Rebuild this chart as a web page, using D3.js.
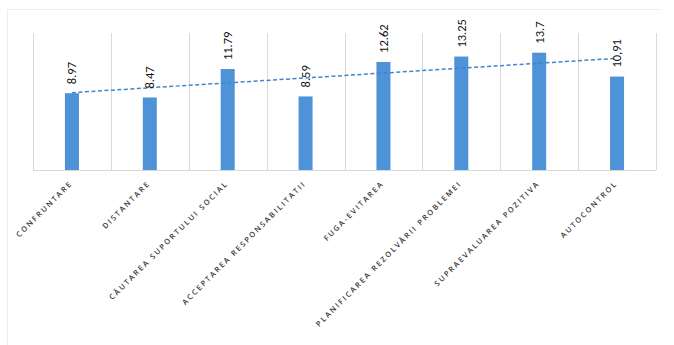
<!DOCTYPE html>
<html><head><meta charset="utf-8">
<script src="https://cdn.jsdelivr.net/npm/d3@7"></script>
<style>html,body{margin:0;padding:0;background:#fff;}svg{display:block;}</style>
</head><body>
<svg id="chart" width="674" height="345"></svg>
<script>
const categories = ["CONFRUNTARE","DISTANTARE","CĂUTAREA SUPORTULUI SOCIAL","ACCEPTAREA RESPONSABILITATII","FUGA-EVITAREA","PLANIFICAREA REZOLVĂRII PROBLEMEI","SUPRAEVALUAREA POZITIVA","AUTOCONTROL"];
const values = [8.97, 8.47, 11.79, 8.59, 12.62, 13.25, 13.7, 10.91];
const valueLabels = ["8.97","8.47","11.79","8.59","12.62","13.25","13.7","10,91"];
const yDomain = [0, 16];

const svg = d3.select("#chart");
const m = {left: 33, right: 18, top: 33, bottom: 175};
const W = 674, H = 345;
const x = d3.scaleBand().domain(categories).range([m.left, W - m.right]).padding(0);
const y = d3.scaleLinear().domain(yDomain).range([H - m.bottom, m.top]);

// faint outer frame
svg.append("path").attr("d", `M7.5,345 V9.5 H660`).attr("fill","none").attr("stroke","#ececec").attr("stroke-width",1);

// vertical gridlines at category boundaries
const bounds = categories.map(c => x(c)).concat([x(categories[categories.length-1]) + x.bandwidth()]);
svg.append("g").selectAll("line").data(bounds).join("line")
  .attr("x1", d => Math.round(d)+0.5).attr("x2", d => Math.round(d)+0.5)
  .attr("y1", y(yDomain[1])).attr("y2", y(0))
  .attr("stroke", "#d9d9d9").attr("stroke-width", 1);

// x axis line
svg.append("line").attr("x1", m.left).attr("x2", W - m.right)
  .attr("y1", y(0)+0.5).attr("y2", y(0)+0.5).attr("stroke", "#d9d9d9");

const bw = 14;
svg.append("g").selectAll("rect").data(values).join("rect")
  .attr("x", (d,i) => x(categories[i]) + x.bandwidth()/2 - bw/2)
  .attr("y", d => y(d)).attr("width", bw).attr("height", d => y(0) - y(d))
  .attr("fill", "#4e92d7");

// linear trendline
const n = values.length;
const xs = values.map((d,i) => i+1);
const mx = d3.mean(xs), my = d3.mean(values);
const slope = d3.sum(xs.map((xi,i) => (xi-mx)*(values[i]-my))) / d3.sum(xs.map(xi => (xi-mx)*(xi-mx)));
const icpt = my - slope*mx;
const cx = i => x(categories[i]) + x.bandwidth()/2;
svg.append("line")
  .attr("x1", cx(0)).attr("y1", y(icpt + slope*1))
  .attr("x2", cx(n-1)).attr("y2", y(icpt + slope*n))
  .attr("stroke", "#3f86cf").attr("stroke-width", 1.5).attr("stroke-dasharray", "4,2.5");

// value labels
svg.append("g").selectAll("text").data(values).join("text")
  .attr("transform", (d,i) => `translate(${cx(i)},${y(d) - 9}) rotate(-90)`)
  .attr("dy", "0.35em")
  .attr("font-family", "Carlito, 'Liberation Sans', Arial, sans-serif")
  .attr("font-size", 12.5).attr("fill", "#111")
  .text((d,i) => valueLabels[i]);

// category labels
svg.append("g").selectAll("text").data(categories).join("text")
  .attr("transform", (d,i) => `translate(${cx(i)+1},${y(0)+14}) rotate(-45)`)
  .attr("text-anchor", "end")
  .attr("font-family", "'Open Sans', sans-serif")
  .attr("font-size", 7.5).attr("font-weight", 600).attr("letter-spacing", 1.9).attr("fill", "#3a3a3a")
  .text(d => d);
</script>
</body></html>
